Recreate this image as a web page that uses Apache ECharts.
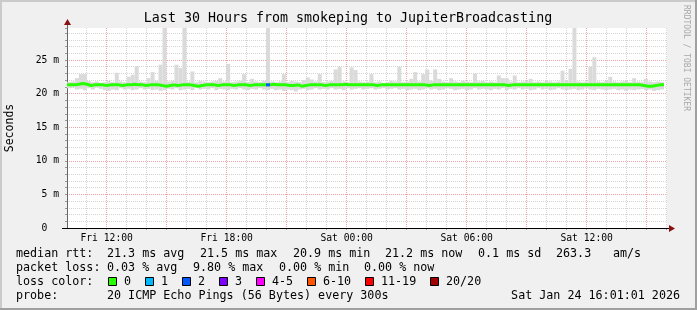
<!DOCTYPE html>
<html><head><meta charset="utf-8">
<script src="https://cdn.jsdelivr.net/npm/echarts@6/dist/echarts.min.js"></script>
<style>html,body{margin:0;padding:0;background:#f0f0f0}#c{width:697px;height:310px}</style>
</head><body><div id="c"></div>
<script>
// ---- data (ms), one value per 12-minute step ----
const hiVals = [21.7,21.8,22.3,22.9,22.9,21.9,21.7,21.8,21.6,21.7,21.9,21.7,23.1,21.8,21.7,22.5,22.8,24.1,21.8,21.7,
22.3,23.2,21.9,24.3,29.76,21.8,21.9,24.3,23.8,29.76,21.8,23.3,21.7,21.9,21.8,21.7,21.8,21.9,22.3,21.8,
24.4,21.7,21.8,21.9,22.9,21.7,22.2,21.8,21.7,21.9,29.76,21.8,21.7,21.8,22.9,21.7,21.9,21.8,21.7,22.0,
22.4,22.1,21.8,22.9,21.7,21.8,21.9,23.6,24.0,21.8,21.7,23.9,23.5,21.8,21.7,21.8,22.9,21.7,21.8,21.6,
21.7,21.9,21.8,24.0,21.7,21.8,22.2,23.2,21.8,22.9,23.6,21.9,23.6,22.2,21.8,21.7,22.3,21.8,21.7,21.9,
21.8,21.7,23.0,21.8,21.9,21.7,21.8,21.7,22.7,22.3,22.3,21.8,22.7,21.7,21.8,21.9,22.2,21.7,21.8,21.7,
21.9,21.8,21.7,21.8,23.4,21.9,23.7,29.76,21.8,21.7,21.8,24.0,25.4,21.8,21.7,21.9,22.5,21.8,21.7,21.8,
21.9,21.7,22.3,21.8,21.7,22.2,21.8,21.7,21.8,21.7];
const loVals = [20.8,20.9,20.6,20.7,20.5,20.8,20.6,20.9,20.7,20.5,20.4,20.6,20.5,20.8,20.6,20.7,20.5,20.6,20.8,20.6,
20.7,20.5,20.6,20.4,20.5,20.7,20.6,20.8,20.5,20.6,20.7,20.5,20.8,20.6,20.7,20.6,20.8,20.5,20.7,20.6,
20.5,20.7,20.6,20.8,20.6,20.5,20.7,20.6,20.8,20.6,20.5,20.7,20.5,20.6,20.4,20.6,20.5,20.3,20.6,20.7,
20.5,20.6,20.8,20.6,20.7,20.6,20.8,20.6,20.7,20.5,20.8,20.6,20.7,20.8,20.6,20.7,20.8,20.6,20.7,20.8,
20.6,20.7,20.8,20.6,20.7,20.5,20.6,20.7,20.5,20.6,20.8,20.6,20.7,20.5,20.6,20.8,20.7,20.5,20.6,20.7,
20.5,20.6,20.8,20.6,20.7,20.6,20.5,20.7,20.6,20.8,20.5,20.7,20.6,20.8,20.6,20.7,20.5,20.6,20.8,20.6,
20.7,20.5,20.6,20.8,20.6,20.5,20.6,20.7,20.5,20.6,20.8,20.6,20.5,20.7,20.6,20.5,20.6,20.7,20.5,20.6,
20.4,20.6,20.5,20.6,20.7,20.5,20.6,20.4,20.5,20.6];
const medVals = [21.3,21.3,21.4,21.5,21.4,21.2,21.3,21.3,21.3,21.2,21.3,
21.3,21.3,21.2,21.3,21.3,21.4,21.3,21.3,21.2,21.3,
21.3,21.3,21.2,21.1,21.2,21.3,21.2,21.3,21.3,21.3,
21.2,21.1,21.2,21.3,21.3,21.3,21.2,21.3,21.3,21.3,
21.2,21.3,21.3,21.3,21.2,21.3,21.3,21.3,21.3,21.3,
21.4,21.3,21.3,21.3,21.2,21.2,21.3,21.1,21.2,21.3,
21.3,21.3,21.3,21.2,21.3,21.3,21.3,21.3,21.4,21.3,
21.3,21.3,21.3,21.3,21.3,21.3,21.2,21.3,21.3,21.3,
21.3,21.3,21.3,21.3,21.3,21.3,21.3,21.3,21.3,21.2,
21.3,21.3,21.3,21.3,21.3,21.3,21.3,21.3,21.3,21.3,
21.3,21.3,21.3,21.3,21.3,21.3,21.3,21.3,21.3,21.2,
21.3,21.3,21.3,21.3,21.3,21.3,21.3,21.3,21.3,21.3,
21.3,21.3,21.3,21.3,21.3,21.3,21.3,21.3,21.3,21.3,
21.3,21.3,21.3,21.3,21.3,21.3,21.3,21.3,21.3,21.3,
21.3,21.3,21.3,21.2,21.1,21.1,21.2,21.3,21.3];
const lossVals = [0,0,0,0,0,0,0,0,0,0,0,0,0,0,0,0,0,0,0,0,0,0,0,0,0,0,0,0,0,0,
0,0,0,0,0,0,0,0,0,0,0,0,0,0,0,0,0,0,0,0,2,0,0,0,0,0,0,0,0,0,
0,0,0,0,0,0,0,0,0,0,0,0,0,0,0,0,0,0,0,0,0,0,0,0,0,0,0,0,0,0,
0,0,0,0,0,0,0,0,0,0,0,0,0,0,0,0,0,0,0,0,0,0,0,0,0,0,0,0,0,0,
0,0,0,0,0,0,0,0,0,0,0,0,0,0,0,0,0,0,0,0,0,0,0,0,0,0,0,0,0,0];

// time axis: hours since Fri 00:00
const X_START = 10 + 1/60, X_END = X_START + 30, STEP = 0.199;
const xLabelHours = [12, 18, 24, 30, 36];
const xTickLabels = ['Fri 12:00', 'Fri 18:00', 'Sat 00:00', 'Sat 06:00', 'Sat 12:00'];
const majorHours = [12, 15, 18, 21, 24, 27, 30, 33, 36, 39];
const minorHours = [11, 13, 14, 16, 17, 19, 20, 22, 23, 25, 26, 28, 29, 31, 32, 34, 35, 37, 38, 40];
const Y_MAX = 29.76;

const lossLabels = ['0', '1', '2', '3', '4-5', '6-10', '11-19', '20/20'];
const lossColors = ['#26ff00', '#00b8ff', '#0059ff', '#7e00ff', '#ff00ff', '#ff5500', '#ff0000', '#a10000'];
const rttStats = ['21.3 ms avg', '21.5 ms max', '20.9 ms min', '21.2 ms now', '0.1 ms sd', '263.3', 'am/s'];
const lossStats = ['0.03 % avg', '9.80 % max', '0.00 % min', '0.00 % now'];

const times = hiVals.map((_, i) => X_START + i * STEP);
const smokeData = hiVals.map((h, i) => [times[i], loVals[i], h]);
const medData = medVals.map((m, i) => [times[i], m]);
medData.push([times[times.length - 1] + STEP, medVals[medVals.length - 1]]);
function lossIdx(l) { return l <= 3 ? l : l <= 5 ? 4 : l <= 10 ? 5 : l <= 19 ? 6 : 7; }
const lossData = [];
lossVals.forEach((l, i) => { if (l > 0) lossData.push([times[i], medVals[i], l]); });

const MONO = '"DejaVu Sans Mono"';
const LFONT = '11.7px ' + MONO;
const axFont = { fontFamily: 'DejaVu Sans Mono', fontSize: 9.7, color: '#000' };
const minorLine = { color: '#d4d4d4', type: [1, 1], width: 1 };
const majorLine = { color: '#f2a3a3', type: [1, 1], width: 1 };

const chart = echarts.init(document.getElementById('c'), null, { renderer: 'canvas' });

const gtext = [];
function T(x, y, text) {
  gtext.push({ type: 'text', z: 100, x: x, y: y,
    style: { text: text, font: LFONT, fill: '#000', align: 'left', verticalAlign: 'middle' } });
}
T(348, 19, 'Last 30 Hours from smokeping to JupiterBroadcasting');
gtext[0].style.font = '13.3px ' + MONO; gtext[0].style.align = 'center';
T(16, 254, 'median rtt:');
[107, 200, 293, 385, 478, 556, 613].forEach((x, k) => T(x, 254, rttStats[k]));
T(16, 268, 'packet loss:');
[107, 193, 279, 364].forEach((x, k) => T(x, 268, lossStats[k]));
T(16, 282, 'loss color:');
const boxX = [108, 145, 182, 219, 256, 307, 365, 430];
boxX.forEach((x, k) => {
  gtext.push({ type: 'rect', z: 100, shape: { x: x + 0.5, y: 277.5, width: 8, height: 8 },
    style: { fill: lossColors[k], stroke: '#000', lineWidth: 1 } });
  T(x + 16, 282, lossLabels[k]);
});
T(16, 296, 'probe:');
T(107, 296, '20 ICMP Echo Pings (56 Bytes) every 300s');
T(680, 296, 'Sat Jan 24 16:01:01 2026');
gtext[gtext.length - 1].style.align = 'right';
gtext.push({ type: 'text', z: 100, x: 10.5, y: 128, rotation: Math.PI / 2,
  style: { text: 'Seconds', font: '11.5px ' + MONO, fill: '#000', align: 'center', verticalAlign: 'middle' } });
gtext.push({ type: 'text', z: 100, x: 686, y: 58, rotation: -Math.PI / 2,
  style: { text: 'RRDTOOL / TOBI OETIKER', font: '8px ' + MONO, fill: '#a8a8a8', align: 'center', verticalAlign: 'middle' } });
gtext.push({ type: 'rect', z: 90, shape: { x: 0, y: 0, width: 697, height: 2 }, style: { fill: '#cbcbcb' } });
gtext.push({ type: 'rect', z: 90, shape: { x: 0, y: 0, width: 2, height: 310 }, style: { fill: '#cbcbcb' } });
gtext.push({ type: 'rect', z: 90, shape: { x: 0, y: 308, width: 697, height: 2 }, style: { fill: '#a0a0a0' } });
gtext.push({ type: 'rect', z: 90, shape: { x: 695, y: 0, width: 2, height: 310 }, style: { fill: '#a0a0a0' } });
gtext.push({ type: 'line', z: 100, shape: { x1: 67.5, y1: 28, x2: 67.5, y2: 24 }, style: { stroke: '#666', lineWidth: 1 } });
gtext.push({ type: 'polygon', z: 100, shape: { points: [[64, 25], [71, 25], [67.5, 19]] }, style: { fill: '#8b1010' } });
gtext.push({ type: 'line', z: 100, shape: { x1: 62, y1: 228.5, x2: 669, y2: 228.5 }, style: { stroke: '#000', lineWidth: 1 } });
gtext.push({ type: 'polygon', z: 100, shape: { points: [[669, 225], [669, 232], [675, 228.5]] }, style: { fill: '#8b1010' } });

const option = {
  animation: false,
  backgroundColor: '#f0f0f0',
  grid: { left: 67, top: 28, width: 600, height: 200, show: true, backgroundColor: '#ffffff', borderWidth: 0 },
  xAxis: [
    { type: 'value', position: 'bottom', min: X_START, max: X_END, axisLine: { show: false },
      axisTick: { show: true, customValues: minorHours, length: 2, lineStyle: { color: '#999' } },
      axisLabel: { show: false }, splitLine: { show: true, lineStyle: minorLine } },
    { type: 'value', position: 'bottom', min: X_START, max: X_END, axisLine: { show: false },
      axisTick: { show: true, customValues: majorHours, length: 2, lineStyle: { color: '#999' } },
      axisLabel: { show: false }, splitLine: { show: true, lineStyle: majorLine } },
    { type: 'value', position: 'bottom', min: X_START, max: X_END, axisLine: { show: true, lineStyle: { color: '#000' } },
      axisTick: { show: false, customValues: xLabelHours },
      axisLabel: Object.assign({ customValues: xLabelHours, margin: 5,
        formatter: v => xTickLabels[xLabelHours.findIndex(h => Math.abs(h - v) < 1e-6)] || '' }, axFont),
      splitLine: { show: false } }
  ],
  yAxis: [
    { type: 'value', position: 'left', min: 0, max: Y_MAX, interval: 1, axisLine: { show: true, lineStyle: { color: '#666' } },
      axisTick: { show: true, length: 2, lineStyle: { color: '#999' } }, axisLabel: { show: false },
      splitLine: { show: true, showMinLine: false, showMaxLine: false, lineStyle: minorLine } },
    { type: 'value', position: 'left', min: 0, max: Y_MAX, interval: 5, axisLine: { show: false }, axisTick: { show: false },
      axisLabel: Object.assign({ margin: 8, formatter: v => v === 0 ? '0  ' : (v > 26 ? '' : v + ' m') }, axFont),
      splitLine: { show: true, showMinLine: false, showMaxLine: false, lineStyle: majorLine } }
  ],
  series: [
    { type: 'custom', xAxisIndex: 0, yAxisIndex: 0, clip: true, data: smokeData, encode: { x: 0, y: [1, 2] },
      renderItem: (params, api) => {
        const t = api.value(0), lo = api.value(1), hi = api.value(2);
        const a = api.coord([t, hi]), b = api.coord([t + STEP, lo]);
        return { type: 'rect', shape: { x: a[0], y: a[1], width: b[0] - a[0], height: b[1] - a[1] },
          style: { fill: '#dadada' } };
      } },
    { type: 'line', xAxisIndex: 0, yAxisIndex: 0, data: medData, step: 'end', showSymbol: false, symbol: 'none',
      lineStyle: { color: lossColors[0], width: 3 }, z: 5 },
    { type: 'custom', xAxisIndex: 0, yAxisIndex: 0, clip: true, data: lossData, z: 6, encode: { x: 0, y: 1 },
      renderItem: (params, api) => {
        const t = api.value(0), m = api.value(1), l = api.value(2);
        const a = api.coord([t, m]), b = api.coord([t + STEP, m]);
        return { type: 'rect', shape: { x: a[0], y: a[1] - 1.5, width: b[0] - a[0], height: 3 },
          style: { fill: lossColors[lossIdx(l)] } };
      } }
  ],
  graphic: { elements: gtext }
};
chart.setOption(option);
</script></body></html>
